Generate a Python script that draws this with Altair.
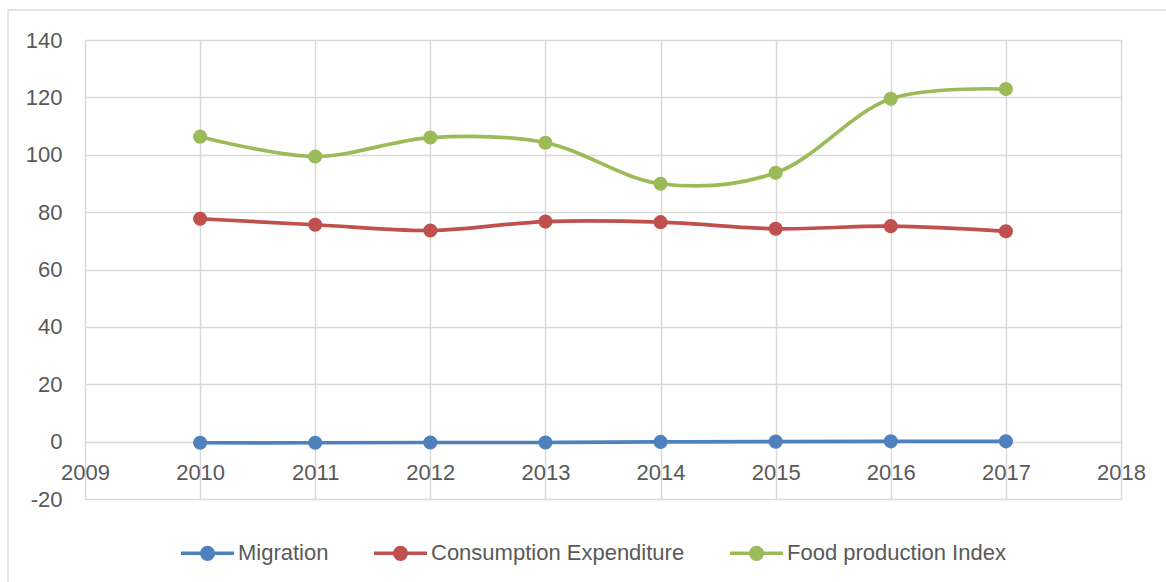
import altair as alt
import pandas as pd

years = [2010, 2011, 2012, 2013, 2014, 2015, 2016, 2017]
migration = [-0.4, -0.4, -0.3, -0.3, -0.1, 0.0, 0.1, 0.1]
consumption = [77.7, 75.6, 73.6, 76.7, 76.5, 74.2, 75.1, 73.3]
food = [106.3, 99.4, 106.0, 104.2, 89.9, 93.7, 119.5, 122.9]
series_names = ["Migration", "Consumption Expenditure", "Food production Index"]
colors = ["#4F81BD", "#C0504D", "#9BBB59"]
x_ticks = list(range(2009, 2019))
y_ticks = list(range(-20, 141, 20))

rows = []
for name, vals in zip(series_names, [migration, consumption, food]):
    for yr, v in zip(years, vals):
        rows.append({"year": yr, "value": v, "series": name})
df = pd.DataFrame(rows)

FONT = "Liberation Sans"
GRAY = "#595959"
GRID = "#d9d9d9"
FS = 22

x = alt.X(
    "year:Q",
    scale=alt.Scale(domain=[2009, 2018], nice=False, zero=False),
    axis=alt.Axis(
        values=x_ticks, format="d", title=None, orient="bottom", offset=-57.5,
        labelPadding=21, ticks=False, domain=False, grid=True, gridColor=GRID,
        gridWidth=1.5, labelColor=GRAY, labelFontSize=FS, labelFont=FONT,
        labelFlush=False, labelOverlap=False,
    ),
)
y = alt.Y(
    "value:Q",
    scale=alt.Scale(domain=[-20, 140], nice=False, zero=False),
    axis=alt.Axis(
        values=y_ticks, title=None, ticks=False, domain=False, grid=True,
        gridColor=GRID, gridWidth=1.5, labelColor=GRAY, labelFontSize=FS,
        labelFont=FONT, labelPadding=23, labelOverlap=False,
        labelExpr="'' + datum.value",
    ),
)

PATH = ("M-1,0L1,0M-0.217,0A0.217,0.217,0,1,1,0.217,0"
        "A0.217,0.217,0,1,1,-0.217,0Z")
legend = alt.Legend(
    title=None, orient="none", legendX=94, legendY=484.5, direction="horizontal",
    symbolType=PATH, symbolSize=2809, symbolStrokeWidth=3.5, symbolOpacity=1,
    labelFontSize=FS, labelFont=FONT, labelColor=GRAY, labelOffset=2,
    columnPadding=38, labelLimit=400, padding=0,
)
cscale = alt.Scale(domain=series_names, range=colors)

lines = alt.Chart(df).mark_line(interpolate="catmull-rom", strokeWidth=3.7).encode(
    x=x, y=y,
    stroke=alt.Stroke("series:N", scale=cscale, legend=legend),
)
points = alt.Chart(df).mark_point(filled=True, size=200, opacity=1, strokeWidth=0).encode(
    x=x, y=y,
    fill=alt.Fill("series:N", scale=cscale, legend=legend),
    stroke=alt.Stroke("series:N", scale=cscale, legend=legend),
)

frame = alt.Chart(pd.DataFrame({"a": [0]})).mark_rect(
    fill=None, stroke=GRID, strokeWidth=1.3
).encode(
    x=alt.value(-77), x2=alt.value(1090), y=alt.value(-30), y2=alt.value(560)
)

chart = alt.layer(frame, lines, points).properties(
    width=1036, height=459,
    autosize=alt.AutoSizeParams(type="none"),
    padding={"left": 85, "top": 40, "right": 45, "bottom": 83},
).configure_view(stroke=None).configure(background="white")

chart.save("out.html", embed_options={"renderer": "svg", "actions": False})
